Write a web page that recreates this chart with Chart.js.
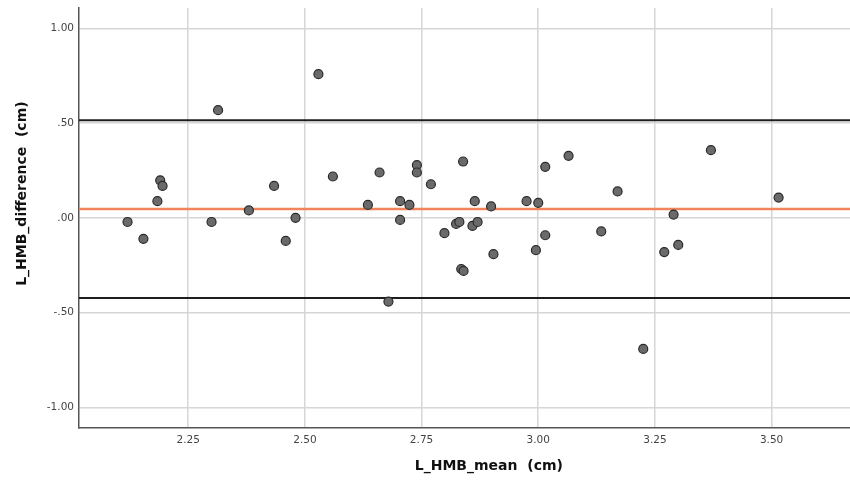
<!DOCTYPE html>
<html>
<head>
<meta charset="utf-8">
<script src="https://cdn.jsdelivr.net/npm/chart.js@4/dist/chart.umd.min.js"></script>
<style>
  html, body { margin: 0; padding: 0; background: #fff; }
  #wrap { width: 850px; height: 480px; }
</style>
</head>
<body>
<div id="wrap"><canvas id="c" width="850" height="480"></canvas></div>
<script>
// L_HMB_mean (cm)
const meanValues = [2.120, 2.154, 2.184, 2.190, 2.195, 2.300, 2.314, 2.380, 2.434, 2.459,
  2.480, 2.529, 2.560, 2.635, 2.660, 2.679, 2.704, 2.704, 2.724, 2.740,
  2.740, 2.770, 2.799, 2.824, 2.831, 2.835, 2.840, 2.839, 2.859, 2.864,
  2.870, 2.899, 2.904, 2.975, 2.995, 3.000, 3.015, 3.015, 3.065, 3.135,
  3.170, 3.225, 3.270, 3.290, 3.300, 3.370, 3.515];
// L_HMB_difference (cm)
const diffValues = [-0.021, -0.110, 0.089, 0.199, 0.169, -0.021, 0.569, 0.040, 0.169, -0.121,
  0.001, 0.759, 0.219, 0.069, 0.240, -0.441, 0.089, -0.010, 0.069, 0.279,
  0.240, 0.178, -0.080, -0.031, -0.021, -0.269, -0.279, 0.298, -0.042, 0.089,
  -0.021, 0.061, -0.191, 0.089, -0.170, 0.080, 0.270, -0.091, 0.328, -0.071,
  0.140, -0.691, -0.180, 0.018, -0.142, 0.358, 0.108];
// Reference lines: mean difference and limits of agreement
const meanDiff = 0.047;
const upperLimit = 0.516;
const lowerLimit = -0.422;
// Axis ticks
const xTicks = [2.25, 2.50, 2.75, 3.00, 3.25, 3.50];
const yTicks = [-1.00, -0.50, 0.00, 0.50, 1.00];
const xRange = [2.016, 3.668];
const yRange = [-1.108, 1.108];

const points = meanValues.map((x, i) => ({ x: x, y: diffValues[i] }));
const hLine = v => [{ x: xRange[0], y: v }, { x: xRange[1], y: v }];

function fmtY(v) {
  let s = Math.abs(v).toFixed(2);
  if (s.startsWith('0')) s = s.slice(1);
  return (v < 0 ? '-' : '') + s;
}
function zeroPad(s) {
  s.paddingTop = 0; s.paddingBottom = 0; s.paddingLeft = 0; s.paddingRight = 0;
}

new Chart(document.getElementById('c'), {
  type: 'scatter',
  data: {
    datasets: [
      {
        label: 'difference',
        data: points,
        pointRadius: 4.5,
        pointHoverRadius: 4.5,
        backgroundColor: '#6a6a6a',
        borderColor: '#2a2a2a',
        borderWidth: 1.2,
        order: 1
      },
      {
        type: 'line', label: 'upper', data: hLine(upperLimit),
        borderColor: '#1e1e1e', borderWidth: 2, pointRadius: 0, order: 3
      },
      {
        type: 'line', label: 'mean', data: hLine(meanDiff),
        borderColor: '#f0845a', borderWidth: 2.5, pointRadius: 0, order: 2
      },
      {
        type: 'line', label: 'lower', data: hLine(lowerLimit),
        borderColor: '#1e1e1e', borderWidth: 2, pointRadius: 0, order: 3
      }
    ]
  },
  options: {
    responsive: false,
    animation: false,
    events: [],
    layout: { autoPadding: false, padding: { top: 8, right: 0, left: 0, bottom: 0 } },
    plugins: { legend: { display: false }, tooltip: { enabled: false } },
    scales: {
      x: {
        type: 'linear',
        min: xRange[0], max: xRange[1],
        afterBuildTicks: s => { s.ticks = xTicks.map(v => ({ value: v })); },
        afterFit: s => { s.height = 52; zeroPad(s); },
        grid: { color: '#d6d6d6', lineWidth: 1.5, drawTicks: false },
        border: { color: '#555', width: 1.5 },
        ticks: {
          padding: 6,
          color: '#444',
          font: { family: 'DejaVu Sans', size: 10.5 },
          callback: v => Number(v).toFixed(2),
          maxRotation: 0, autoSkip: false
        },
        title: {
          display: true,
          text: '          L_HMB_mean  (cm)',
          color: '#111',
          font: { family: 'DejaVu Sans', size: 14, weight: 'bold' },
          padding: { top: 0, bottom: 5 }
        }
      },
      y: {
        type: 'linear',
        min: yRange[0], max: yRange[1],
        afterBuildTicks: s => { s.ticks = yTicks.map(v => ({ value: v })); },
        afterFit: s => { s.width = 79; zeroPad(s); },
        grid: { color: '#d6d6d6', lineWidth: 1.5, drawTicks: false },
        border: { color: '#555', width: 1.5 },
        ticks: {
          padding: 5,
          color: '#444',
          font: { family: 'DejaVu Sans', size: 10.5 },
          callback: v => fmtY(v)
        },
        title: {
          display: true,
          text: '          L_HMB_difference  (cm)',
          color: '#111',
          font: { family: 'DejaVu Sans', size: 14, weight: 'bold' },
          padding: { top: 14, bottom: 0 }
        }
      }
    }
  }
});
</script>
</body>
</html>
